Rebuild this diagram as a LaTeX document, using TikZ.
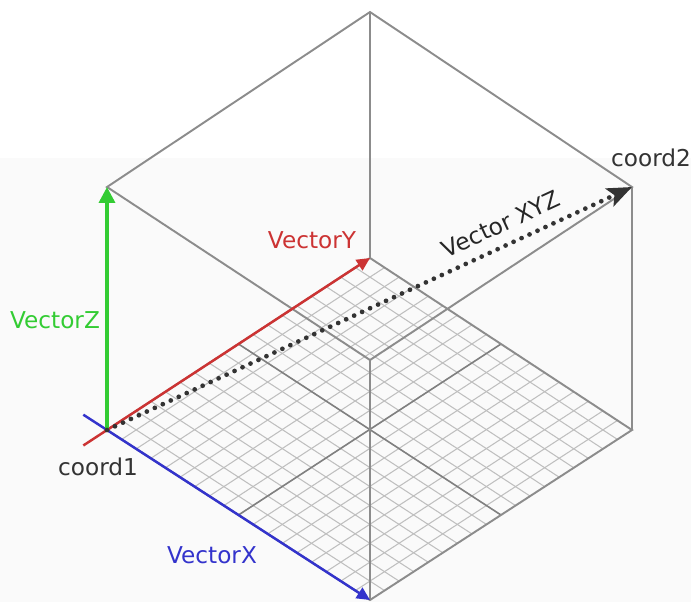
\documentclass[tikz,border=0pt]{standalone}
\usepackage{fontspec}
\setmainfont{DejaVu Sans}
\usepackage{tikz}
\usetikzlibrary{arrows.meta, calc}

\begin{document}
\begin{tikzpicture}[x=0.02cm, y=-0.02cm,
  every node/.style={font=\fontsize{13.2}{15}\selectfont, inner sep=0pt},
  edge/.style={gray!90, line width=1.1pt},
  gridline/.style={gray!50, line width=0.6pt},
  halfline/.style={gray, line width=0.9pt},
  vecz/.style={green!75!white!80!black, line width=2pt, -{Triangle[length=9pt, width=9pt]}},
  vecy/.style={red!75!white!80!black, line width=1.4pt, -{Triangle[length=7.5pt, width=7pt]}},
  vecx/.style={blue!75!white!80!black, line width=1.4pt, -{Triangle[length=7.5pt, width=7pt]}},
  vecxyz/.style={black!80, line width=2.7pt, line cap=round, dash pattern=on 0pt off 5pt,
    -{Stealth[length=14pt, width=11pt, inset=3pt]}}]
  \useasboundingbox (0,0) rectangle (691,602);
  \fill[black!2] (0,158) rectangle (691,602);
  % corners of the box
  \coordinate (c1) at (107,430);
  \coordinate (fx) at (370,600);
  \coordinate (fy) at (370,258);
  \coordinate (fxy) at (632,430);
  \coordinate (tz) at (107,187);
  \coordinate (txz) at (370,360);
  \coordinate (tyz) at (370,12);
  \coordinate (c2) at (632,187);
  \coordinate (xtail) at ($(c1)!-0.09!(fx)$);
  \coordinate (ytail) at ($(c1)!-0.09!(fy)$);
  % floor grid
  \foreach \i in {1,...,17} {
    \draw[gridline] ($(c1)!\i/18!(fx)$) -- ($(fy)!\i/18!(fxy)$);
    \draw[gridline] ($(c1)!\i/18!(fy)$) -- ($(fx)!\i/18!(fxy)$);
  }
  \draw[halfline] ($(c1)!0.5!(fx)$) -- ($(fy)!0.5!(fxy)$);
  \draw[halfline] ($(c1)!0.5!(fy)$) -- ($(fx)!0.5!(fxy)$);
  % box edges
  \draw[edge] (c1) -- (fx) -- (fxy) -- (fy) -- cycle;
  \draw[edge] (tz) -- (tyz) -- (c2) -- (txz) -- cycle;
  \draw[edge] (fx) -- (txz);
  \draw[edge] (fy) -- (tyz);
  \draw[edge] (fxy) -- (c2);
  % vectors
  \draw[vecx] (xtail) -- (fx);
  \draw[vecy] (ytail) -- (fy);
  \draw[vecz] (c1) -- (tz);
  \draw[vecxyz] (c1) -- (c2);
  % labels
  \node[text=green!75!white!80!black] (labelZ) at (55,320) {VectorZ};
  \node[text=red!75!white!80!black] (labelY) at (312,240) {VectorY};
  \node[text=blue!75!white!80!black] (labelX) at (212,555) {VectorX};
  \node[text=black!80] (labelC1) at (98,467) {coord1};
  \node[text=black!80] (labelC2) at (651,158) {coord2};
  \node[text=black!85, rotate=24.8] (labelXYZ) at (501,224) {Vector XYZ};
\end{tikzpicture}
\end{document}
